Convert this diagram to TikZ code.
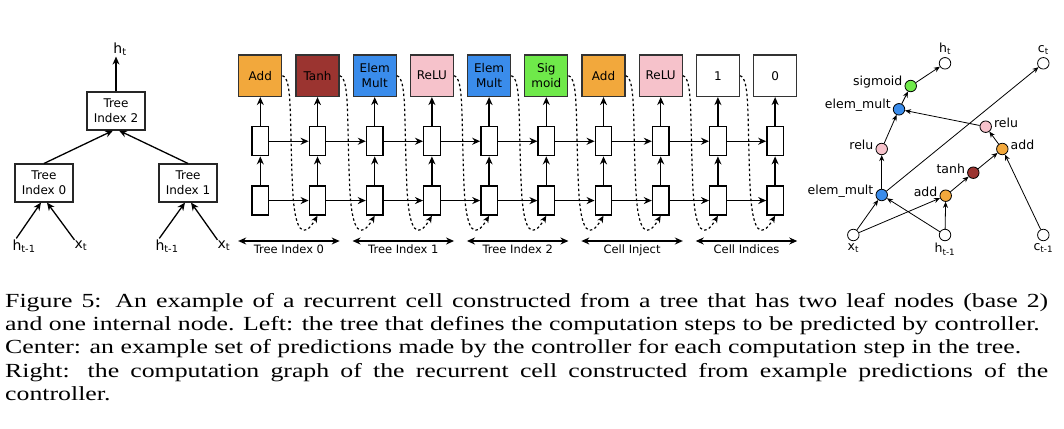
\documentclass[tikz,border=0pt]{standalone}
\usepackage{fontspec}
\setmainfont{Liberation Serif}
\setsansfont{DejaVu Sans}
\newfontfamily\capfont{Liberation Serif}[FakeStretch=1.29]
\usetikzlibrary{arrows.meta, positioning}

\definecolor{addc}{HTML}{F2A83C}
\definecolor{tanhc}{HTML}{9B3430}
\definecolor{multc}{HTML}{3A8CEB}
\definecolor{reluc}{HTML}{F6C2CB}
\definecolor{sigc}{HTML}{6FE94A}

\begin{document}
\begin{tikzpicture}[
    x=1pt, y=-1pt,
    node distance=29pt,
    label distance=1pt,
    every node/.style={font=\sffamily\fontsize{12}{15}\selectfont},
    treebox/.style={rectangle, draw=black!85, line width=1.1pt, minimum width=58pt, minimum height=38pt, align=center, inner sep=1pt},
    leaf/.style={font=\sffamily\fontsize{14}{16}\selectfont, inner sep=1pt},
    opbox/.style={rectangle, draw=black!80, line width=1.3pt, minimum width=43pt, minimum height=41.5pt, align=center, inner sep=1pt},
    cell/.style={rectangle, draw=black, line width=1.3pt, minimum width=16.5pt, minimum height=29pt, inner sep=0pt, fill=white},
    arrow/.style={-{Stealth[length=8pt,width=7pt]}, line width=1.3pt},
    dotarrow/.style={-{Stealth[length=7pt,width=6pt]}, line width=1.2pt, dash pattern=on 2.5pt off 2.5pt},
    span/.style={{Stealth[length=8pt,width=7pt]}-{Stealth[length=8pt,width=7pt]}, line width=1.3pt},
    spanlbl/.style={font=\sffamily\fontsize{11.5}{14}\selectfont, inner xsep=0pt, inner ysep=3.5pt, anchor=north},
    gnode/.style={circle, draw=black, line width=0.8pt, minimum size=11.5pt, inner sep=0pt},
    garrow/.style={-{Stealth[length=6pt,width=5pt]}, line width=0.8pt},
    glabel/.style={font=\sffamily\fontsize{12.5}{15}\selectfont, yshift=4pt, inner sep=1pt},
    tlabel/.style={font=\sffamily\fontsize{12.5}{15}\selectfont, inner sep=1pt},
    caption/.style={font=\capfont\fontsize{20}{23.3}\selectfont, text width=1043pt, align=justify, inner sep=0pt}
]
\useasboundingbox (0,0) rectangle (1064,428);

% left: the tree
\node[treebox] (ti2) at (116,111) {Tree\\Index 2};
\node[treebox] (ti0) at (44,183) {Tree\\Index 0};
\node[treebox] (ti1) at (188,183) {Tree\\Index 1};
\node[leaf] (ht) at (120,49) {h\textsubscript{t}};
\node[leaf] (hp0) at (24,246) {h\textsubscript{t-1}};
\node[leaf] (xt0) at (81,246) {x\textsubscript{t}};
\node[leaf] (hp1) at (167,246) {h\textsubscript{t-1}};
\node[leaf] (xt1) at (224,246) {x\textsubscript{t}};

\draw[arrow] (ti2.north) -- (ti2.north |- ht.south);
\draw[arrow] (ti0.north) -- ([xshift=-3pt]ti2.south);
\draw[arrow] (ti1.north) -- ([xshift=3pt]ti2.south);
\draw[arrow] ([xshift=5pt]hp0.north west) -- ([xshift=-3pt]ti0.south);
\draw[arrow] ([xshift=1pt]xt0.north west) -- ([xshift=3pt]ti0.south);
\draw[arrow] ([xshift=5pt]hp1.north west) -- ([xshift=-3pt]ti1.south);
\draw[arrow] ([xshift=1pt]xt1.north west) -- ([xshift=3pt]ti1.south);

% center: controller predictions
\foreach \i/\lbl/\clr in {0/Add/addc, 1/Tanh/tanhc, 2/Elem\\Mult/multc, 3/ReLU/reluc, 4/Elem\\Mult/multc,
                          5/Sig\\moid/sigc, 6/Add/addc, 7/ReLU/reluc, 8/1/white, 9/0/white} {
    \node[opbox, fill=\clr] (op\i) at (260.3+57.2*\i, 75.7) {\lbl};
    \node[cell, below=of op\i] (hi\i) {};
    \node[cell, below=of hi\i] (lo\i) {};
    \draw[arrow] (lo\i) -- (hi\i);
    \draw[arrow] (hi\i) -- (op\i);
}
\foreach \i [count=\j from 1] in {0,...,8} {
    \draw[arrow] (lo\i) -- (lo\j);
    \draw[arrow] (hi\i) -- (hi\j);
    \draw[dotarrow] (op\i.east) .. controls +(10,3) and +(-3,-70) .. ++(10,110)
        .. controls +(2,48) and +(-14,24) .. (lo\j.south);
}
\foreach \a/\b/\m/\lbl in {0/1/0/Tree Index 0, 2/3/1/Tree Index 1, 4/5/2/Tree Index 2,
                           6/7/3/Cell Inject, 8/9/4/Cell Indices} {
    \node[spanlbl] (sp\m) at (288.9+114.4*\m, 241) {\lbl};
    \draw[span] (op\a.west |- sp\m.north) -- (op\b.east |- sp\m.north);
}

% right: computation graph
\node[gnode, label={[tlabel]above:h\textsubscript{t}}] (gh) at (945,63.3) {};
\node[gnode, label={[tlabel]above:c\textsubscript{t}}] (gc) at (1043.3,63.3) {};
\node[gnode, fill=sigc, label={[glabel]left:sigmoid}] (gsig) at (910.7,86) {};
\node[gnode, fill=multc, label={[glabel]left:elem\_mult}] (gmul2) at (899,109.3) {};
\node[gnode, fill=reluc, label={[glabel]left:relu}] (grelu1) at (881.7,149) {};
\node[gnode, fill=multc, label={[glabel]left:elem\_mult}] (gmul1) at (881.7,195) {};
\node[gnode, fill=reluc, label={[glabel]right:relu}] (grelu2) at (985.7,126.7) {};
\node[gnode, fill=addc, label={[glabel]right:add}] (gadd2) at (1002.3,149) {};
\node[gnode, fill=tanhc, label={[glabel]left:tanh}] (gtanh) at (973.3,172.7) {};
\node[gnode, fill=addc, label={[glabel]left:add}] (gadd1) at (945.7,195.7) {};
\node[gnode, label={[tlabel]below:x\textsubscript{t}}] (gx) at (853.3,235) {};
\node[gnode, label={[tlabel]below:h\textsubscript{t-1}}] (gh1) at (945,235) {};
\node[gnode, label={[tlabel]below:c\textsubscript{t-1}}] (gc1) at (1043.3,235) {};

\foreach \a/\b in {gx/gmul1, gx/gadd1, gh1/gmul1, gh1/gadd1, gmul1/grelu1, gmul1/gc,
                   grelu1/gmul2, grelu2/gmul2, gmul2/gsig, gsig/gh, gadd1/gtanh,
                   gtanh/gadd2, gc1/gadd2, gadd2/grelu2}
    \draw[garrow] (\a) -- (\b);

% caption
\node[caption, anchor=north west] (cap) at (5,293) {Figure 5: An example of a recurrent cell constructed from a tree that has two leaf nodes (base 2)\linebreak
and one internal node. Left: the tree that defines the computation steps to be predicted by controller.\\
Center: an example set of predictions made by the controller for each computation step in the tree.\\
Right: the computation graph of the recurrent cell constructed from example predictions of the\linebreak
controller.};

\end{tikzpicture}
\end{document}
